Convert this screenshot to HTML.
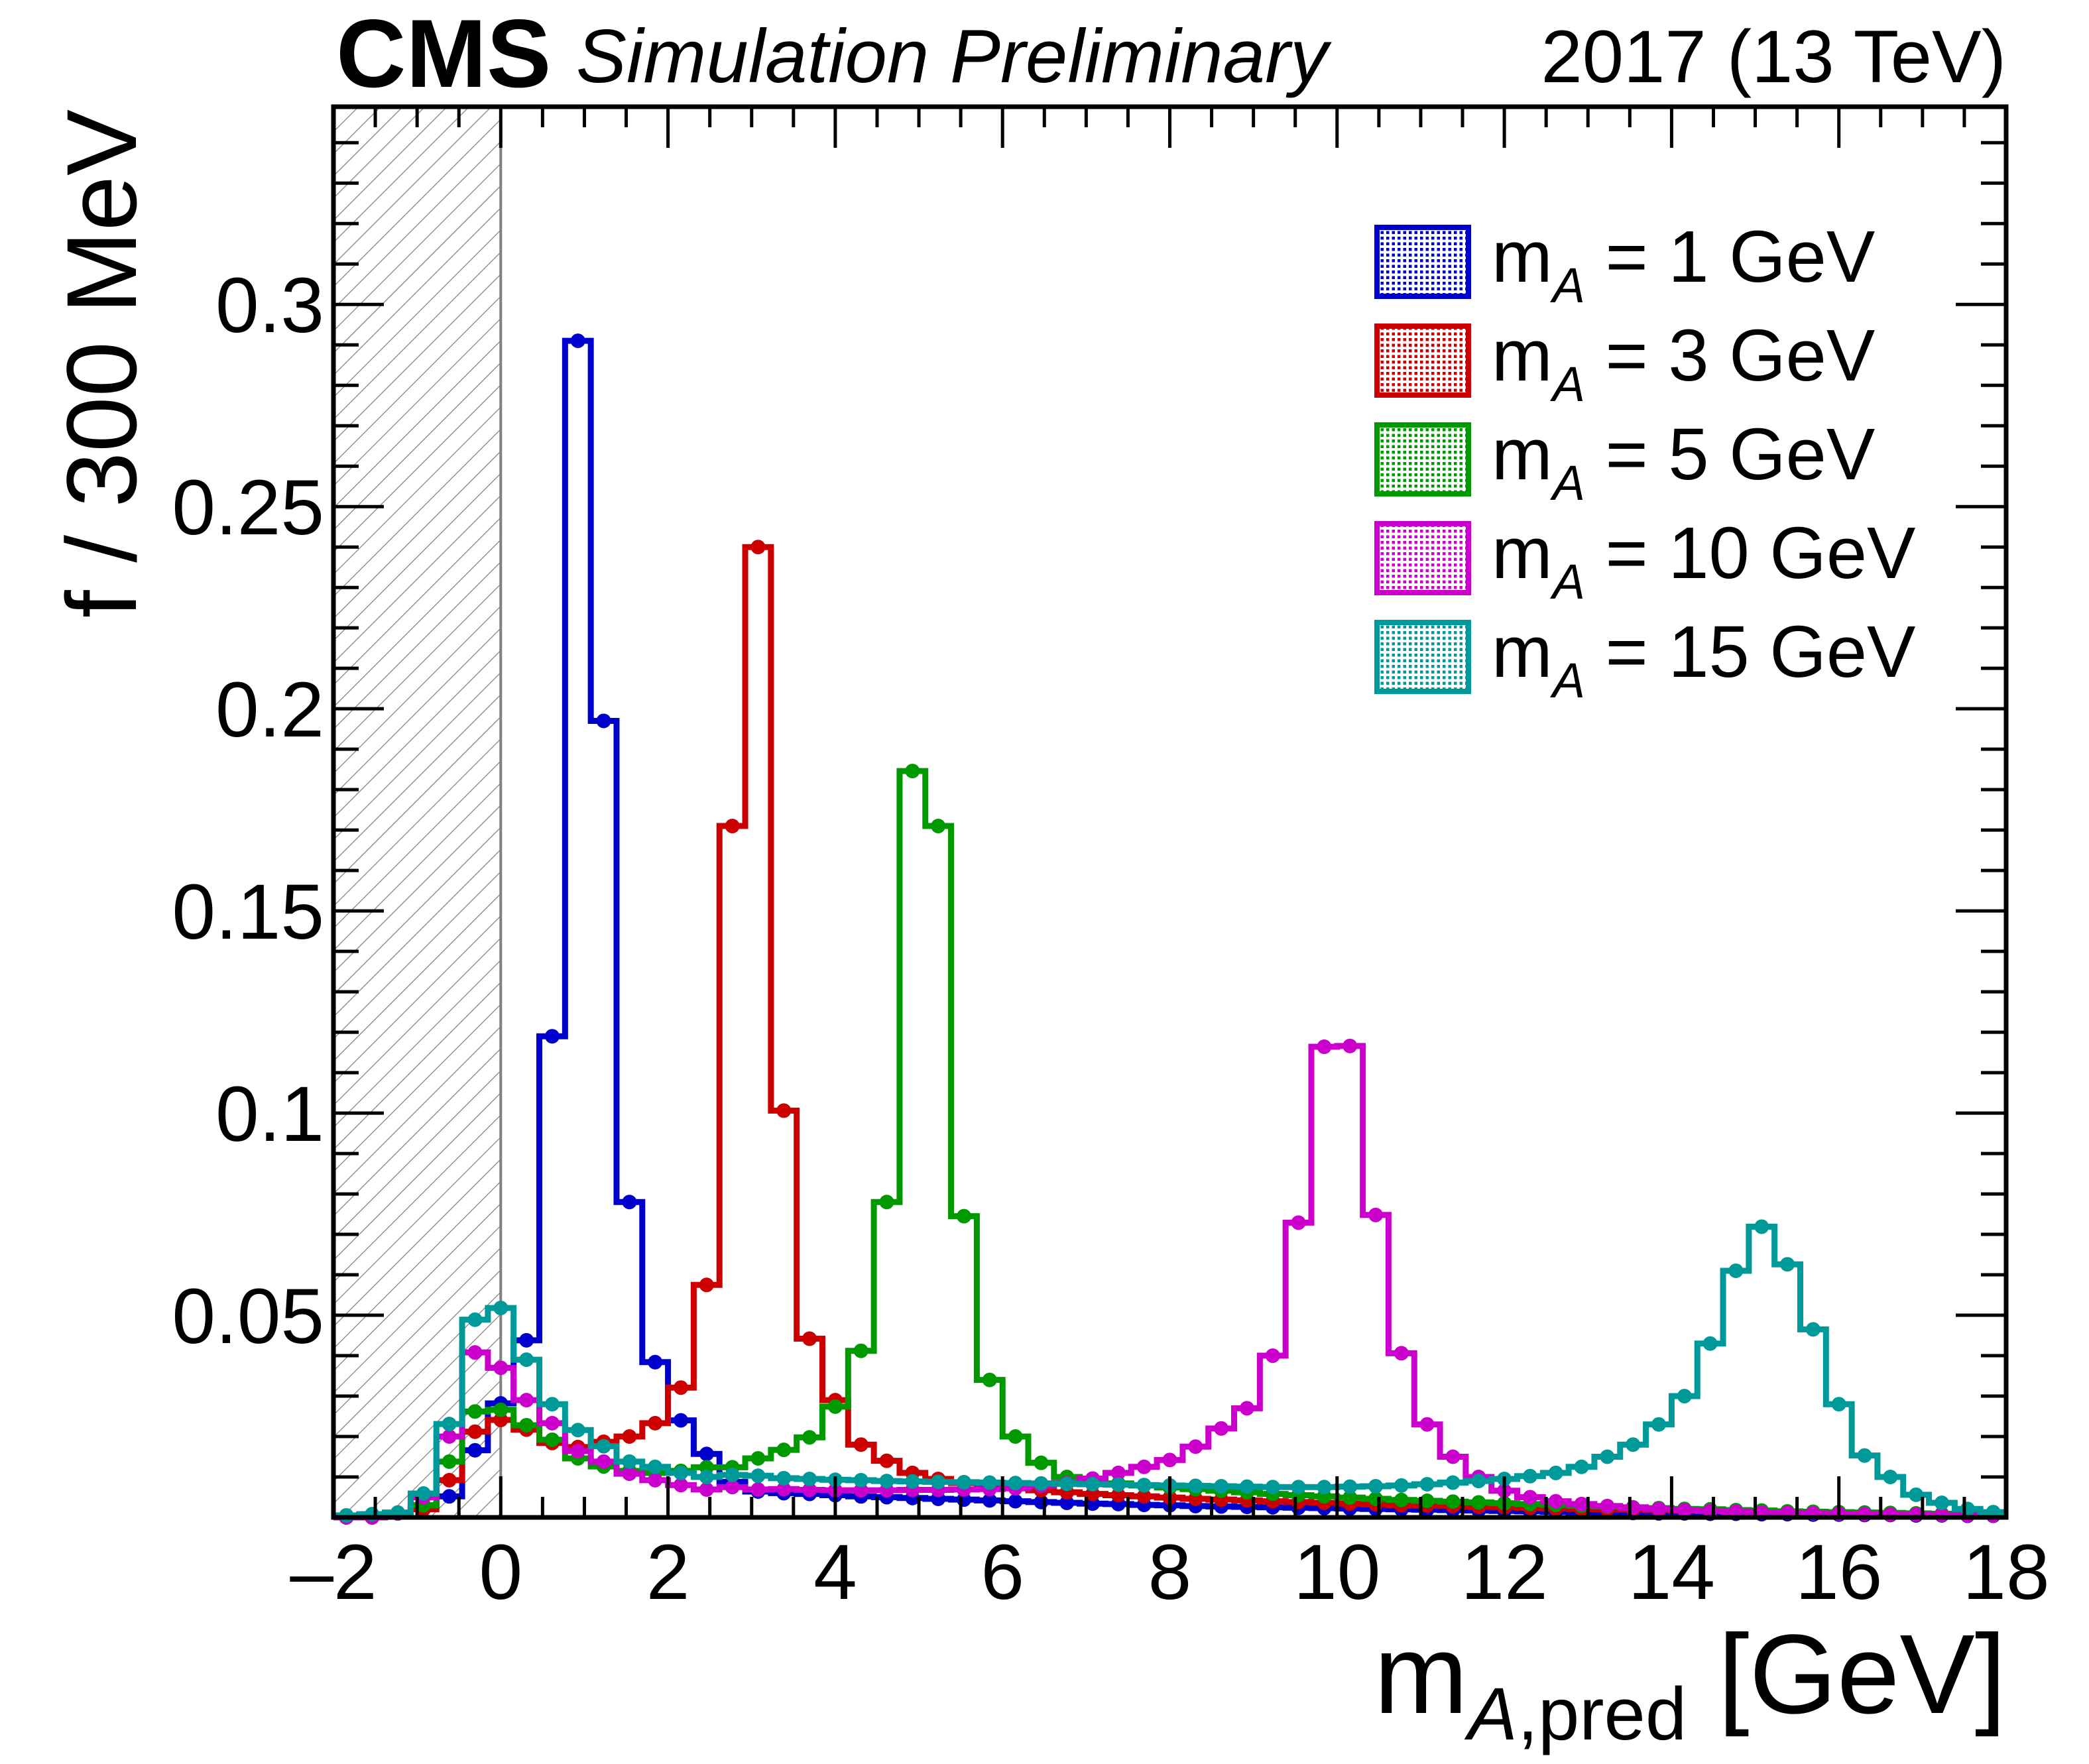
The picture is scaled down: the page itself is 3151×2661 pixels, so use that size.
<!DOCTYPE html>
<html><head><meta charset="utf-8"><style>
html,body{margin:0;padding:0;background:#fff}
svg{display:block}
text{font-family:"Liberation Sans",sans-serif}
</style></head><body>
<svg id="chart" xmlns="http://www.w3.org/2000/svg" width="3151" height="2661" viewBox="0 0 3151 2661">
<defs>
<pattern id="hatch" patternUnits="userSpaceOnUse" width="23.6" height="20" patternTransform="rotate(45)">
<line x1="0" y1="0" x2="0" y2="20" stroke="#808080" stroke-width="2.5"/>
</pattern>
</defs>
<rect x="0" y="0" width="3151" height="2661" fill="#fff"/>
<g id="plot"></g>
<text x="507" y="131" font-size="146" font-weight="bold">CMS</text>
<text x="869" y="124" font-size="114" font-style="italic">Simulation Preliminary</text>
<text x="3026" y="124" font-size="112" text-anchor="end">2017 (13 TeV)</text>
<text x="3026" y="2584" font-size="170" text-anchor="end">m<tspan font-size="112" dy="40" font-style="italic">A</tspan><tspan font-size="112">,pred</tspan><tspan dy="-40"> [GeV]</tspan></text>
<text transform="translate(205,165) rotate(-90)" font-size="150" text-anchor="end">f / 300 MeV</text>
</svg>
<script>
const binLo = -2, binHi = 18, nBins = 65;
const xTicks = [-2,0,2,4,6,8,10,12,14,16,18];
const xTickLabels = ["\u20132","0","2","4","6","8","10","12","14","16","18"];
const yTicks = [0.05,0.1,0.15,0.2,0.25,0.3];
const yTickLabels = ["0.05","0.1","0.15","0.2","0.25","0.3"];
const seriesNames = ["m_A = 1 GeV","m_A = 3 GeV","m_A = 5 GeV","m_A = 10 GeV","m_A = 15 GeV"];
const legendMass = ["1","3","5","10","15"];
const values1 = [0,0,0.001,0.003,0.0052,0.0166,0.0282,0.0438,0.119,0.291,0.197,0.078,0.0384,0.024,0.0157,0.0088,0.0064,
0.006,0.0058,0.0055,0.0052,0.005,0.0048,0.0046,0.0044,0.0042,0.004,0.0038,0.0036,0.0034,0.0033,0.0031,0.003,
0.0028,0.0027,0.0026,0.0025,0.0024,0.0023,0.0022,0.0021,0.002,0.0019,0.0018,0.0017,0.0016,0.0015,0.0014,0.0013,
0.0012,0.0011,0.001,0.001,0.0009,0.0009,0.0008,0.0008,0.0007,0.0007,0.0006,0.0006,0.0005,0.0005,0.0004,0.0004];
const values3 = [0,0,0.001,0.002,0.0092,0.0212,0.0241,0.0217,0.0184,0.0174,0.0187,0.020,0.0233,0.0321,0.0575,0.171,0.240,0.1006,0.0442,0.029,0.018,0.014,0.011,0.0095,
0.0085,0.0078,0.0072,0.0067,0.0062,0.0058,0.0055,0.0052,0.0049,0.0046,0.0044,0.0042,0.004,0.0038,0.0036,0.0034,
0.0032,0.003,0.0029,0.0028,0.0026,0.0025,0.0024,0.0022,0.0021,0.002,0.0019,0.0018,0.0017,0.0016,0.0015,0.0014,
0.0013,0.0012,0.0011,0.001,0.0009,0.0008,0.0007,0.0006,0.0005];
const values5 = [0,0,0.001,0.003,0.0138,0.0262,0.0266,0.0228,0.0192,0.0146,0.0126,0.0115,0.011,0.0115,0.0124,0.0124,
0.0146,0.0167,0.0198,0.0274,0.0412,0.078,0.1846,0.171,0.0745,0.034,0.020,0.0135,0.010,0.009,
0.0084,0.0079,0.0074,0.007,0.0066,0.0062,0.0058,0.0055,0.0052,0.0049,0.0046,0.0043,0.0041,0.0039,0.0037,0.0035,
0.0033,0.0031,0.0029,0.0027,0.0025,0.0023,0.0021,0.002,0.0018,0.0017,0.0015,0.0014,0.0013,0.0012,0.0011,0.001,
0.0009,0.0008,0.0007];
const values10 = [0,0,0.001,0.005,0.020,0.0408,0.037,0.029,0.0233,0.0164,0.0138,0.0108,0.0092,0.008,0.0069,0.0075,
0.0069,0.007,0.0068,0.0067,0.0067,0.0067,0.0068,0.0068,0.0069,0.007,0.0072,0.0078,0.0085,0.0096,0.011,0.0125,
0.0142,0.0175,0.022,0.027,0.040,0.0729,0.1164,0.1166,0.0748,0.0406,0.023,0.015,0.010,0.0066,0.005,0.004,
0.0033,0.0028,0.0024,0.0021,0.0018,0.0016,0.0014,0.0012,0.0011,0.001,0.0009,0.0008,0.0007,0.0007,0.0006,0.0005,0.0005];
const values15 = [0.0005,0.0008,0.0012,0.0059,0.0231,0.0489,0.0518,0.039,0.028,0.0216,0.0176,0.0138,0.0125,0.011,0.010,0.0105,0.0103,0.0097,
0.0095,0.0093,0.0092,0.009,0.0089,0.0088,0.0087,0.0086,0.0085,0.0084,0.0083,0.0082,0.0081,0.008,0.0079,0.0078,
0.0077,0.0076,0.0075,0.0075,0.0075,0.0076,0.0077,0.0079,0.0082,0.0086,0.009,0.0095,0.0102,0.011,
0.0125,0.015,0.018,0.023,0.030,0.043,0.061,0.0719,0.0626,0.0465,0.028,0.0153,0.010,0.0056,0.0036,0.0021,0.0013];
const allSeries = [values1, values3, values5, values10, values15];
const colors = ["#0000cc","#cc0000","#009900","#cc00cc","#009999"];

const L=503, R=3026, T=161, B=2289, yMax=0.3489;
const NS="http://www.w3.org/2000/svg";
function X(v){return L+(v-binLo)/(binHi-binLo)*(R-L);}
function Y(v){return B-v/yMax*(B-T);}
function mk(tag,attrs,parent){const e=document.createElementNS(NS,tag);for(const k in attrs)e.setAttribute(k,attrs[k]);parent.appendChild(e);return e;}
const g=document.getElementById('plot');
const bw=(binHi-binLo)/nBins;

const hz=mk('rect',{x:L,y:T,width:X(0)-L,height:B-T,fill:'url(#hatch)'},g);


const zl=mk('line',{x1:X(0),y1:T,x2:X(0),y2:B,stroke:'#808080','stroke-width':4},g);



allSeries.forEach((vals,si)=>{
  const sg=mk('g',{},g);
  
  
  let d='M'+X(binLo)+','+Y(vals[0]);
  for(let k=0;k<vals.length;k++){
    d+=' H'+X(binLo+(k+1)*bw);
    if(k+1<vals.length) d+=' V'+Y(vals[k+1]);
  }
  const p=mk('path',{d:d,fill:'none',stroke:colors[si],'stroke-width':9,'stroke-linejoin':'miter'},sg);
  
  
  for(let k=0;k<vals.length;k++){
    const c=mk('circle',{cx:X(binLo+(k+0.5)*bw),cy:Y(vals[k]),r:11,fill:colors[si]},sg);
    
    
  }
});

const fr=mk('rect',{x:L,y:T,width:R-L,height:B-T,fill:'none',stroke:'#000','stroke-width':7},g);



for(let v=binLo; v<=binHi+1e-9; v+=0.5){
  const major=Math.abs(v/2-Math.round(v/2))<1e-9;
  const len=major?62:31;
  const t1=mk('line',{x1:X(v),y1:B,x2:X(v),y2:B-len,stroke:'#000','stroke-width':5},g);
  
  
  const t2=mk('line',{x1:X(v),y1:T,x2:X(v),y2:T+len,stroke:'#000','stroke-width':5},g);
  
  
}
xTicks.forEach((v,i)=>{
  const t=mk('text',{x:X(v),y:2412,'font-size':118,'text-anchor':'middle'},g);
  t.textContent=xTickLabels[i];
  
  
});
for(let i=1;i*0.01<yMax;i++){
  const v=i*0.01;
  const major=i%5===0;
  const len=major?76:38;
  const t1=mk('line',{x1:L,y1:Y(v),x2:L+len,y2:Y(v),stroke:'#000','stroke-width':5},g);
  
  
  const t2=mk('line',{x1:R,y1:Y(v),x2:R-len,y2:Y(v),stroke:'#000','stroke-width':5},g);
  
  
}
yTicks.forEach((v,i)=>{
  const t=mk('text',{x:489,y:Y(v)+42,'font-size':118,'text-anchor':'end'},g);
  t.textContent=yTickLabels[i];
  
  
});

const defs=document.querySelector('defs');
seriesNames.forEach((n,i)=>{
  const pat=mk('pattern',{id:'dots'+i,patternUnits:'userSpaceOnUse',width:8.5,height:8.5},defs);
  mk('rect',{x:0,y:0,width:4.5,height:4.5,fill:colors[i]},pat);
  const y0=339+i*149;
  const lg=mk('g',{},g);
  
  
  const box=mk('rect',{x:2077,y:y0+4,width:138,height:104,fill:'url(#dots'+i+')',stroke:colors[i],'stroke-width':8},lg);
  
  
  const t=mk('text',{x:2250,y:y0+86,'font-size':110},lg);
  
  
  t.innerHTML='m<tspan font-size="74" font-style="italic" dy="31">A</tspan><tspan dy="-31"> = '+legendMass[i]+' GeV</tspan>';
});
</script>
</body></html>
